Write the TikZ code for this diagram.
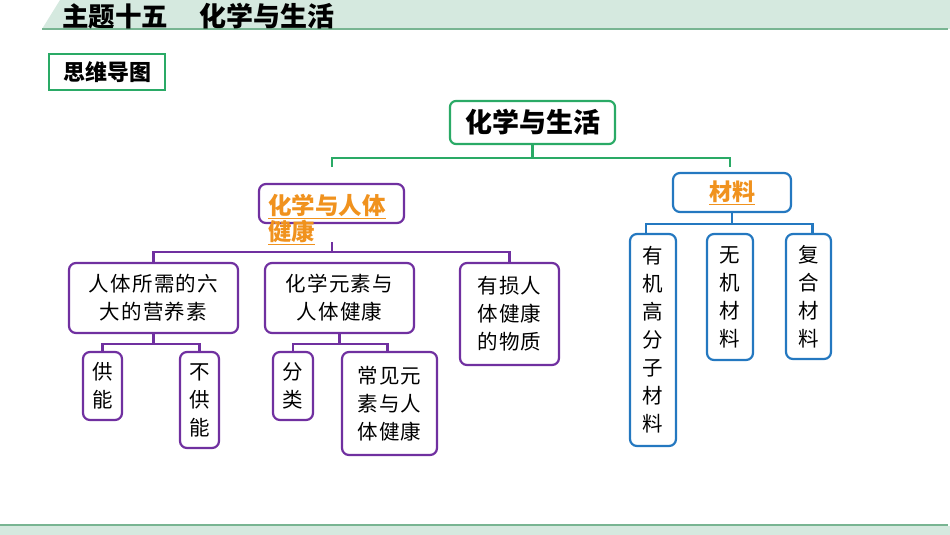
\documentclass[tikz,border=0pt]{standalone}
\usepackage{fontspec}
\newfontfamily\cjk{Noto Sans CJK SC}
\newfontfamily\cjksp[LetterSpace=6]{Noto Sans CJK SC}
\definecolor{bandgreen}{HTML}{D5E9DF}
\definecolor{bandline}{HTML}{78B592}
\definecolor{mygreen}{HTML}{2AAA66}
\definecolor{mypurple}{HTML}{7030A0}
\definecolor{myblue}{HTML}{2478C0}
\definecolor{myorange}{HTML}{F0921E}
\tikzset{
  gbox/.style={draw=mygreen, line width=2.2pt, rounded corners=6pt, inner sep=0pt, align=center},
  pbox/.style={draw=mypurple, line width=2.2pt, rounded corners=7pt, inner sep=0pt, align=center,
    font=\cjksp\fontsize{20.5}{28}\selectfont},
  bbox/.style={draw=myblue, line width=2.2pt, rounded corners=7pt, inner sep=0pt, align=center,
    font=\cjksp\fontsize{20.5}{28}\selectfont},
  gline/.style={draw=mygreen, line width=2.2pt},
  pline/.style={draw=mypurple, line width=2.2pt},
  bline/.style={draw=myblue, line width=2.2pt},
}
\begin{document}
\begin{tikzpicture}[x=1pt,y=-1pt]
\useasboundingbox (0,0) rectangle (950,535);
% header band
\fill[bandgreen] (60,0) -- (950,0) -- (950,29) -- (42,29) -- cycle;
\draw[bandline, line width=2pt] (42,29.5) -- (948,29.5);
\node[anchor=west, inner sep=0pt, font=\cjk\bfseries\fontsize{26.5}{26.5}\selectfont] (title1) at (62,16) {主题十五};
\node[anchor=west, inner sep=0pt, font=\cjk\bfseries\fontsize{27}{27}\selectfont] (title2) at (199,16) {化学与生活};
% footer band
\fill[bandgreen] (0,526) rectangle (950,535);
\draw[bandline, line width=2pt] (0,525) -- (948,525);
% label box
\node[draw=mygreen, line width=1.3pt, fill=white, minimum width=116pt, minimum height=36pt, inner sep=0pt,
  font=\cjk\bfseries\fontsize{22}{22}\selectfont] (mind) at (107,72) {思维导图};
% main
\node[gbox, minimum width=165pt, minimum height=43pt, font=\cjk\bfseries\fontsize{27}{27}\selectfont] (main) at (532.5,122.5) {化学与生活};
% level 1
\node[draw=mypurple, line width=2.2pt, rounded corners=7pt, minimum width=145pt, minimum height=39pt, inner sep=0pt] (health) at (331.5,203.5) {};
\node[anchor=north west, inner sep=0pt, align=left, text=myorange,
  font=\cjk\bfseries\fontsize{23.5}{23}\selectfont] (healthtxt) at (268,194) {\underline{化学与人体}\\\underline{健康}};
\node[bbox, minimum width=118pt, minimum height=39pt, text=myorange, font=\cjk\bfseries\fontsize{23}{23}\selectfont] (mat) at (732,192.5) {\underline{材料}};
% level 2 (health)
\node[pbox, minimum width=169pt, minimum height=70pt] (n1) at (153.5,298) {人体所需的六\\大的营养素};
\node[pbox, minimum width=149pt, minimum height=70pt] (n2) at (339.5,298) {化学元素与\\人体健康};
\node[pbox, minimum width=99pt, minimum height=102pt] (n3) at (509.5,314) {有损人\\体健康\\的物质};
% level 3
\node[pbox, minimum width=39pt, minimum height=68pt] (a1) at (102.5,386) {供\\能};
\node[pbox, minimum width=39pt, minimum height=96pt] (a2) at (199.5,400) {不\\供\\能};
\node[pbox, minimum width=40pt, minimum height=68pt] (c1) at (293,386) {分\\类};
\node[pbox, minimum width=95pt, minimum height=103pt] (c2) at (389.5,403.5) {常见元\\素与人\\体健康};
% materials children
\node[bbox, minimum width=46pt, minimum height=212pt] (b1) at (653,340) {有\\机\\高\\分\\子\\材\\料};
\node[bbox, minimum width=46pt, minimum height=126pt] (b2) at (730,297) {无\\机\\材\\料};
\node[bbox, minimum width=45pt, minimum height=125pt] (b3) at (808.5,296.5) {复\\合\\材\\料};
% connectors
\coordinate (gL) at (332,167);
\coordinate (gR) at (730,167);
\draw[gline] (main.south) -- ++(0,12.5) coordinate (gm);
\draw[gline] (gL) |- (gm) -| (gR);
\coordinate (hs) at (332,242);
\draw[pline] (hs) -- ++(0,10) coordinate (hm);
\draw[pline] (n1.north) |- (hm) -| (n3.north);
\draw[pline] (n1.south) -- ++(0,10) coordinate (m1);
\draw[pline] (a1.north) |- (m1) -| (a2.north);
\draw[pline] (n2.south) -- ++(0,10) coordinate (m2);
\draw[pline] (c1.north) |- (m2) -| ([xshift=-2pt]c2.north);
\draw[bline] (mat.south) -- ++(0,11) coordinate (m3);
\draw[bline] ([xshift=-7pt]b1.north) |- (m3) -| ([xshift=4pt]b3.north);
\end{tikzpicture}
\end{document}
